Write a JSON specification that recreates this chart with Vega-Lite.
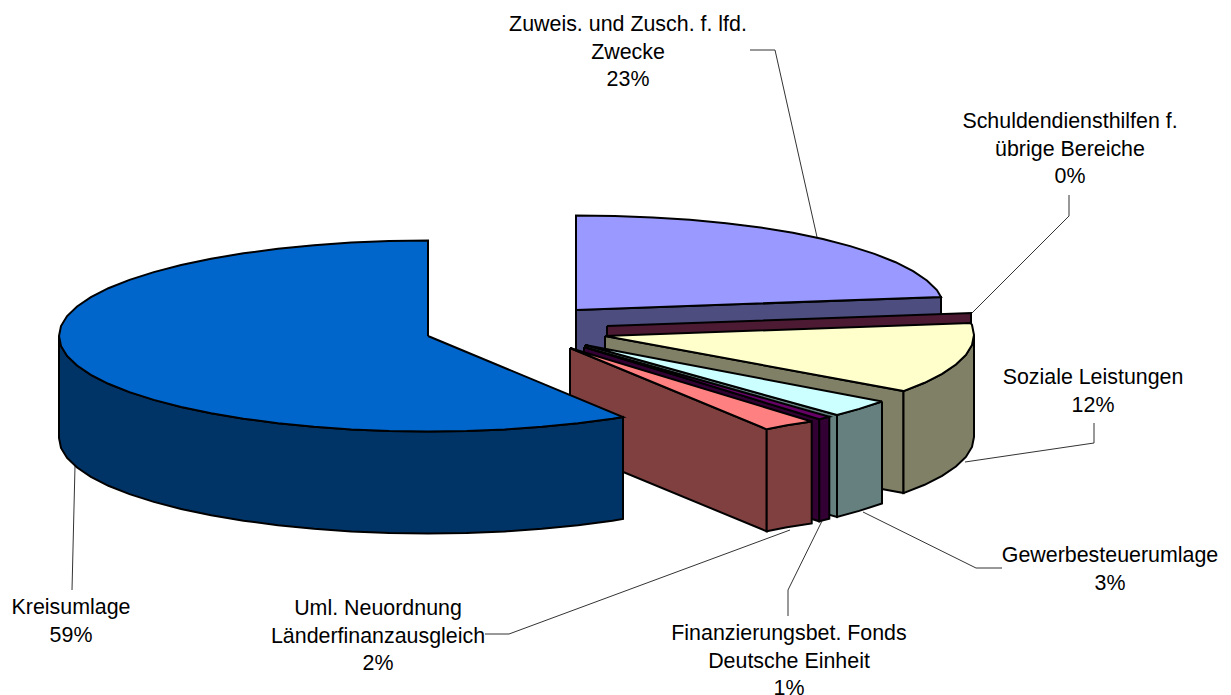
{"$schema":"https://vega.github.io/schema/vega-lite/v6.json","width":1231,"height":695,"padding":0,"autosize":"none","background":"white","view":{"stroke":null},
"datasets":{
"leaders":[
{"slice":"Zuweis","n":1,"x":750,"y":50},{"slice":"Zuweis","n":2,"x":775,"y":50},{"slice":"Zuweis","n":3,"x":817,"y":237},
{"slice":"Schulden","n":1,"x":1069,"y":195},{"slice":"Schulden","n":2,"x":1069,"y":216},{"slice":"Schulden","n":3,"x":972,"y":313},
{"slice":"Soziale","n":1,"x":1094,"y":423},{"slice":"Soziale","n":2,"x":1094,"y":443},{"slice":"Soziale","n":3,"x":965,"y":462},
{"slice":"Gewerbe","n":1,"x":1002,"y":568},{"slice":"Gewerbe","n":2,"x":976,"y":568},{"slice":"Gewerbe","n":3,"x":863,"y":512},
{"slice":"Fonds","n":1,"x":788,"y":616},{"slice":"Fonds","n":2,"x":788,"y":590},{"slice":"Fonds","n":3,"x":822,"y":521},
{"slice":"Uml","n":1,"x":485,"y":634},{"slice":"Uml","n":2,"x":509,"y":634},{"slice":"Uml","n":3,"x":790,"y":530},
{"slice":"Kreis","n":1,"x":72,"y":590},{"slice":"Kreis","n":2,"x":75,"y":466}],
"labels":[
{"label":"Zuweis. und Zusch. f. lfd.\nZwecke\n23%","share":23,"x":628,"y":25},
{"label":"Schuldendiensthilfen f.\nübrige Bereiche\n0%","share":0,"x":1070,"y":122},
{"label":"Soziale Leistungen\n12%","share":12,"x":1093,"y":378},
{"label":"Gewerbesteuerumlage\n3%","share":3,"x":1110,"y":556},
{"label":"Finanzierungsbet. Fonds\nDeutsche Einheit\n1%","share":1,"x":789,"y":634},
{"label":"Uml. Neuordnung\nLänderfinanzausgleich\n2%","share":2,"x":378,"y":609},
{"label":"Kreisumlage\n59%","share":59,"x":71,"y":608}],
"shapes":[
{"part":"Zuweis wall","n":1,"x":576,"y":310},{"part":"Zuweis wall","n":2,"x":941,"y":297},{"part":"Zuweis wall","n":3,"x":941,"y":399},{"part":"Zuweis wall","n":4,"x":576,"y":412},{"part":"Zuweis wall","n":5,"x":576,"y":310},
{"part":"Zuweis top","n":1,"x":576,"y":310},{"part":"Zuweis top","n":2,"x":576,"y":215.5},{"part":"Zuweis top","n":3,"x":614.6,"y":216},{"part":"Zuweis top","n":4,"x":652.7,"y":217.4},{"part":"Zuweis top","n":5,"x":690,"y":219.8},{"part":"Zuweis top","n":6,"x":726.1,"y":223.2},{"part":"Zuweis top","n":7,"x":760.5,"y":227.5},{"part":"Zuweis top","n":8,"x":792.9,"y":232.7},{"part":"Zuweis top","n":9,"x":822.9,"y":239},{"part":"Zuweis top","n":10,"x":850.2,"y":246.1},{"part":"Zuweis top","n":11,"x":874.5,"y":253.9},{"part":"Zuweis top","n":12,"x":895.6,"y":262.2},{"part":"Zuweis top","n":13,"x":913.1,"y":271.2},{"part":"Zuweis top","n":14,"x":926.9,"y":280.5},{"part":"Zuweis top","n":15,"x":936.9,"y":290.1},{"part":"Zuweis top","n":16,"x":941,"y":297},{"part":"Zuweis top","n":17,"x":576,"y":310},
{"part":"Schulden wall","n":1,"x":607,"y":326},{"part":"Schulden wall","n":2,"x":971,"y":313},{"part":"Schulden wall","n":3,"x":971,"y":415},{"part":"Schulden wall","n":4,"x":607,"y":428},{"part":"Schulden wall","n":5,"x":607,"y":326},
{"part":"Soziale wall","n":1,"x":605,"y":336},{"part":"Soziale wall","n":2,"x":903.5,"y":391.1},{"part":"Soziale wall","n":3,"x":903.5,"y":493.1},{"part":"Soziale wall","n":4,"x":605,"y":438},{"part":"Soziale wall","n":5,"x":605,"y":336},
{"part":"Soziale rim","n":1,"x":974,"y":335},{"part":"Soziale rim","n":2,"x":972,"y":345},{"part":"Soziale rim","n":3,"x":965.9,"y":354.9},{"part":"Soziale rim","n":4,"x":955.9,"y":364.5},{"part":"Soziale rim","n":5,"x":942.1,"y":373.8},{"part":"Soziale rim","n":6,"x":924.6,"y":382.8},{"part":"Soziale rim","n":7,"x":903.5,"y":391.1},{"part":"Soziale rim","n":8,"x":903.5,"y":493.1},{"part":"Soziale rim","n":9,"x":924.6,"y":484.8},{"part":"Soziale rim","n":10,"x":942.1,"y":475.8},{"part":"Soziale rim","n":11,"x":955.9,"y":466.5},{"part":"Soziale rim","n":12,"x":965.9,"y":456.9},{"part":"Soziale rim","n":13,"x":972,"y":447},{"part":"Soziale rim","n":14,"x":974,"y":437},{"part":"Soziale rim","n":15,"x":974,"y":335},
{"part":"Soziale top","n":1,"x":605,"y":336},{"part":"Soziale top","n":2,"x":970.7,"y":323},{"part":"Soziale top","n":3,"x":972,"y":325},{"part":"Soziale top","n":4,"x":974,"y":335},{"part":"Soziale top","n":5,"x":972,"y":345},{"part":"Soziale top","n":6,"x":965.9,"y":354.9},{"part":"Soziale top","n":7,"x":955.9,"y":364.5},{"part":"Soziale top","n":8,"x":942.1,"y":373.8},{"part":"Soziale top","n":9,"x":924.6,"y":382.8},{"part":"Soziale top","n":10,"x":903.5,"y":391.1},{"part":"Soziale top","n":11,"x":605,"y":336},
{"part":"Gewerbe wall","n":1,"x":585,"y":345},{"part":"Gewerbe wall","n":2,"x":837,"y":415},{"part":"Gewerbe wall","n":3,"x":837,"y":517},{"part":"Gewerbe wall","n":4,"x":585,"y":447},{"part":"Gewerbe wall","n":5,"x":585,"y":345},
{"part":"Gewerbe rim","n":1,"x":882,"y":401.5},{"part":"Gewerbe rim","n":2,"x":859.2,"y":408.9},{"part":"Gewerbe rim","n":3,"x":837,"y":415},{"part":"Gewerbe rim","n":4,"x":837,"y":517},{"part":"Gewerbe rim","n":5,"x":859.2,"y":510.9},{"part":"Gewerbe rim","n":6,"x":882,"y":503.5},{"part":"Gewerbe rim","n":7,"x":882,"y":401.5},
{"part":"Gewerbe top","n":1,"x":585,"y":345},{"part":"Gewerbe top","n":2,"x":882,"y":401.5},{"part":"Gewerbe top","n":3,"x":859.2,"y":408.9},{"part":"Gewerbe top","n":4,"x":837,"y":415},{"part":"Gewerbe top","n":5,"x":585,"y":345},
{"part":"Fonds wall","n":1,"x":584,"y":347},{"part":"Fonds wall","n":2,"x":819.3,"y":419.3},{"part":"Fonds wall","n":3,"x":819.3,"y":521.3},{"part":"Fonds wall","n":4,"x":584,"y":449},{"part":"Fonds wall","n":5,"x":584,"y":347},
{"part":"Fonds rim","n":1,"x":819.3,"y":419.3},{"part":"Fonds rim","n":2,"x":829.3,"y":416.7},{"part":"Fonds rim","n":3,"x":829.3,"y":518.7},{"part":"Fonds rim","n":4,"x":819.3,"y":521.3},{"part":"Fonds rim","n":5,"x":819.3,"y":419.3},
{"part":"Fonds top","n":1,"x":584,"y":347},{"part":"Fonds top","n":2,"x":829.3,"y":416.7},{"part":"Fonds top","n":3,"x":819.3,"y":419.3},{"part":"Fonds top","n":4,"x":584,"y":347},
{"part":"Uml wall","n":1,"x":570,"y":348},{"part":"Uml wall","n":2,"x":766.7,"y":429.3},{"part":"Uml wall","n":3,"x":766.7,"y":531.3},{"part":"Uml wall","n":4,"x":570,"y":450},{"part":"Uml wall","n":5,"x":570,"y":348},
{"part":"Uml rim","n":1,"x":766.7,"y":429.3},{"part":"Uml rim","n":2,"x":786.9,"y":425.3},{"part":"Uml rim","n":3,"x":811.7,"y":421.5},{"part":"Uml rim","n":4,"x":811.7,"y":523.5},{"part":"Uml rim","n":5,"x":786.9,"y":527.3},{"part":"Uml rim","n":6,"x":766.7,"y":531.3},{"part":"Uml rim","n":7,"x":766.7,"y":429.3},
{"part":"Uml top","n":1,"x":570,"y":348},{"part":"Uml top","n":2,"x":811.7,"y":421.5},{"part":"Uml top","n":3,"x":786.9,"y":425.3},{"part":"Uml top","n":4,"x":766.7,"y":429.3},{"part":"Uml top","n":5,"x":570,"y":348},
{"part":"Kreis rim","n":1,"x":59,"y":336},{"part":"Kreis rim","n":2,"x":61,"y":346},{"part":"Kreis rim","n":3,"x":67.1,"y":355.9},{"part":"Kreis rim","n":4,"x":77.1,"y":365.5},{"part":"Kreis rim","n":5,"x":90.9,"y":374.8},{"part":"Kreis rim","n":6,"x":108.4,"y":383.8},{"part":"Kreis rim","n":7,"x":129.5,"y":392.1},{"part":"Kreis rim","n":8,"x":153.8,"y":399.9},{"part":"Kreis rim","n":9,"x":181.1,"y":407},{"part":"Kreis rim","n":10,"x":211.1,"y":413.3},{"part":"Kreis rim","n":11,"x":243.5,"y":418.7},{"part":"Kreis rim","n":12,"x":277.9,"y":423.2},{"part":"Kreis rim","n":13,"x":314,"y":426.8},{"part":"Kreis rim","n":14,"x":351.3,"y":429.4},{"part":"Kreis rim","n":15,"x":389.4,"y":431},{"part":"Kreis rim","n":16,"x":428,"y":431.5},{"part":"Kreis rim","n":17,"x":466.6,"y":431},{"part":"Kreis rim","n":18,"x":504.7,"y":429.4},{"part":"Kreis rim","n":19,"x":542,"y":426.8},{"part":"Kreis rim","n":20,"x":578.1,"y":423.2},{"part":"Kreis rim","n":21,"x":612.5,"y":418.7},{"part":"Kreis rim","n":22,"x":623,"y":417},{"part":"Kreis rim","n":23,"x":623,"y":519},{"part":"Kreis rim","n":24,"x":612.5,"y":520.7},{"part":"Kreis rim","n":25,"x":578.1,"y":525.2},{"part":"Kreis rim","n":26,"x":542,"y":528.8},{"part":"Kreis rim","n":27,"x":504.7,"y":531.4},{"part":"Kreis rim","n":28,"x":466.6,"y":533},{"part":"Kreis rim","n":29,"x":428,"y":533.5},{"part":"Kreis rim","n":30,"x":389.4,"y":533},{"part":"Kreis rim","n":31,"x":351.3,"y":531.4},{"part":"Kreis rim","n":32,"x":314,"y":528.8},{"part":"Kreis rim","n":33,"x":277.9,"y":525.2},{"part":"Kreis rim","n":34,"x":243.5,"y":520.7},{"part":"Kreis rim","n":35,"x":211.1,"y":515.3},{"part":"Kreis rim","n":36,"x":181.1,"y":509},{"part":"Kreis rim","n":37,"x":153.8,"y":501.9},{"part":"Kreis rim","n":38,"x":129.5,"y":494.1},{"part":"Kreis rim","n":39,"x":108.4,"y":485.8},{"part":"Kreis rim","n":40,"x":90.9,"y":476.8},{"part":"Kreis rim","n":41,"x":77.1,"y":467.5},{"part":"Kreis rim","n":42,"x":67.1,"y":457.9},{"part":"Kreis rim","n":43,"x":61,"y":448},{"part":"Kreis rim","n":44,"x":59,"y":438},{"part":"Kreis rim","n":45,"x":59,"y":336},
{"part":"Kreis top","n":1,"x":428,"y":336},{"part":"Kreis top","n":2,"x":428,"y":240.5},{"part":"Kreis top","n":3,"x":389.4,"y":241},{"part":"Kreis top","n":4,"x":351.3,"y":242.6},{"part":"Kreis top","n":5,"x":314,"y":245.2},{"part":"Kreis top","n":6,"x":277.9,"y":248.8},{"part":"Kreis top","n":7,"x":243.5,"y":253.3},{"part":"Kreis top","n":8,"x":211.1,"y":258.7},{"part":"Kreis top","n":9,"x":181.1,"y":265},{"part":"Kreis top","n":10,"x":153.8,"y":272.1},{"part":"Kreis top","n":11,"x":129.5,"y":279.9},{"part":"Kreis top","n":12,"x":108.4,"y":288.2},{"part":"Kreis top","n":13,"x":90.9,"y":297.2},{"part":"Kreis top","n":14,"x":77.1,"y":306.5},{"part":"Kreis top","n":15,"x":67.1,"y":316.1},{"part":"Kreis top","n":16,"x":61,"y":326},{"part":"Kreis top","n":17,"x":59,"y":336},{"part":"Kreis top","n":18,"x":61,"y":346},{"part":"Kreis top","n":19,"x":67.1,"y":355.9},{"part":"Kreis top","n":20,"x":77.1,"y":365.5},{"part":"Kreis top","n":21,"x":90.9,"y":374.8},{"part":"Kreis top","n":22,"x":108.4,"y":383.8},{"part":"Kreis top","n":23,"x":129.5,"y":392.1},{"part":"Kreis top","n":24,"x":153.8,"y":399.9},{"part":"Kreis top","n":25,"x":181.1,"y":407},{"part":"Kreis top","n":26,"x":211.1,"y":413.3},{"part":"Kreis top","n":27,"x":243.5,"y":418.7},{"part":"Kreis top","n":28,"x":277.9,"y":423.2},{"part":"Kreis top","n":29,"x":314,"y":426.8},{"part":"Kreis top","n":30,"x":351.3,"y":429.4},{"part":"Kreis top","n":31,"x":389.4,"y":431},{"part":"Kreis top","n":32,"x":428,"y":431.5},{"part":"Kreis top","n":33,"x":466.6,"y":431},{"part":"Kreis top","n":34,"x":504.7,"y":429.4},{"part":"Kreis top","n":35,"x":542,"y":426.8},{"part":"Kreis top","n":36,"x":578.1,"y":423.2},{"part":"Kreis top","n":37,"x":612.5,"y":418.7},{"part":"Kreis top","n":38,"x":623,"y":417},{"part":"Kreis top","n":39,"x":428,"y":336}
]},
"layer":[
{"data":{"name":"leaders"},"mark":{"type":"line","stroke":"#333333","strokeWidth":1,"clip":false},
"encoding":{"detail":{"field":"slice"},"order":{"field":"n"},
"x":{"field":"x","type":"quantitative","scale":{"domain":[0,1231]},"axis":null},
"y":{"field":"y","type":"quantitative","scale":{"domain":[695,0]},"axis":null}}},
{"data":{"name":"shapes"},"mark":{"type":"line","filled":true,"stroke":"black","strokeWidth":2,"strokeJoin":"miter","fillOpacity":1,"clip":false},
"encoding":{"order":{"field":"n"},
"x":{"field":"x","type":"quantitative","scale":{"domain":[0,1231]},"axis":null},
"y":{"field":"y","type":"quantitative","scale":{"domain":[695,0]},"axis":null},
"color":{"field":"part","type":"nominal","legend":null,"scale":{
"domain":["Zuweis wall","Zuweis top","Schulden wall","Soziale wall","Soziale rim","Soziale top","Gewerbe wall","Gewerbe rim","Gewerbe top","Fonds wall","Fonds rim","Fonds top","Uml wall","Uml rim","Uml top","Kreis rim","Kreis top"],
"range":["#4D4D80","#9999FF","#4D1A33","#808066","#808066","#FFFFCC","#668080","#668080","#CCFFFF","#330033","#330033","#660066","#804040","#804040","#FF8080","#003366","#0066CC"]}}}},
{"data":{"name":"labels"},"mark":{"type":"text","font":"Liberation Sans","fontSize":21.4,"lineBreak":"\n","lineHeight":27.5,"align":"center","baseline":"middle","color":"black"},
"encoding":{"text":{"field":"label"},
"x":{"field":"x","type":"quantitative","scale":{"domain":[0,1231]},"axis":null},
"y":{"field":"y","type":"quantitative","scale":{"domain":[695,0]},"axis":null}}}
]}
